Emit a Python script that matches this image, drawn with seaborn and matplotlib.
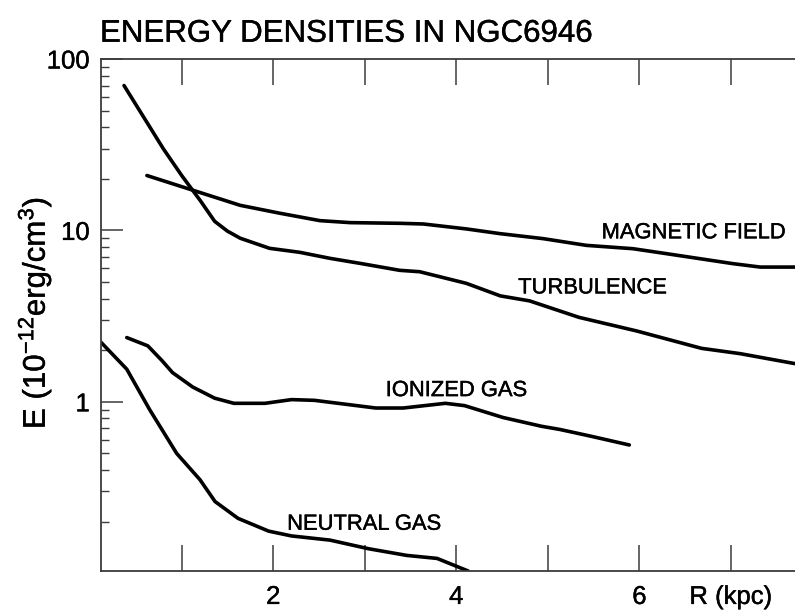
import matplotlib
matplotlib.use("Agg")
import matplotlib.pyplot as plt
import matplotlib.ticker as mticker
import matplotlib.patheffects as pe
import numpy as np
import pandas as pd
import seaborn as sns

# Radial profiles of energy density (10^-12 erg/cm^3) versus galactocentric radius (kpc)
r_magnetic = [0.62, 1.13, 1.64, 2.07, 2.51, 2.84, 3.38, 3.64, 4.11, 4.48, 4.95, 5.42, 5.93, 6.30, 6.66, 7.02, 7.32, 7.70]
e_magnetic = [20.9, 17.1, 14.0, 12.6, 11.4, 11.1, 11.0, 10.9, 10.2, 9.57, 8.95, 8.18, 7.82, 7.31, 6.84, 6.40, 6.11, 6.11]

r_turbulence = [0.37, 0.80, 1.00, 1.20, 1.36, 1.50, 1.64, 1.96, 2.29, 2.62, 2.95, 3.38, 3.60, 4.11, 4.48, 4.80, 5.34, 5.97, 6.68, 7.10, 7.70]
e_turbulence = [70.0, 29.9, 20.9, 15.0, 11.3, 9.9, 9.0, 7.86, 7.45, 6.87, 6.42, 5.85, 5.74, 4.91, 4.15, 3.88, 3.11, 2.59, 2.05, 1.91, 1.67]

r_ionized = [0.40, 0.63, 0.78, 0.90, 1.12, 1.36, 1.57, 1.91, 2.20, 2.45, 3.12, 3.42, 3.88, 4.09, 4.51, 4.93, 5.13, 5.47, 5.89]
e_ionized = [2.37, 2.12, 1.75, 1.48, 1.22, 1.05, 0.98, 0.98, 1.03, 1.02, 0.92, 0.92, 0.98, 0.95, 0.81, 0.72, 0.69, 0.63, 0.56]

r_neutral = [0.12, 0.40, 0.65, 0.945, 1.20, 1.364, 1.615, 1.95, 2.20, 2.62, 3.04, 3.46, 3.79, 4.13]
e_neutral = [2.22, 1.55, 0.90, 0.50, 0.351, 0.262, 0.209, 0.176, 0.165, 0.156, 0.139, 0.127, 0.122, 0.103]

x_ticks = [1, 2, 3, 4, 5, 6, 7]
x_tick_labels = ["", "2", "", "4", "", "6", "R (kpc)"]
y_ticks = [1, 10, 100]
y_tick_labels = ["1", "10", "100"]

sns.set_theme(style="ticks")
plt.rcParams["font.family"] = ["Liberation Sans", "DejaVu Sans"]
plt.rcParams["mathtext.fontset"] = "custom"
plt.rcParams["mathtext.rm"] = "Liberation Sans"
plt.rcParams["mathtext.it"] = "Liberation Sans:italic"
plt.rcParams["mathtext.bf"] = "Liberation Sans:bold"
plt.rcParams["text.color"] = "black"
plt.rcParams["axes.labelcolor"] = "black"

# a thin outline gives the lettering a slightly heavier stroke
heavy = [pe.withStroke(linewidth=0.3, foreground="black")]

fig = plt.figure(figsize=(7.95, 6.10), dpi=100)
ax = fig.add_axes([0.127, 0.0639, 0.873, 0.8394])

line_kw = dict(color="black", linewidth=2.6, estimator=None, sort=True, ax=ax)
for r, e in [(r_magnetic, e_magnetic), (r_turbulence, e_turbulence),
             (r_ionized, e_ionized), (r_neutral, e_neutral)]:
    df = pd.DataFrame({"R": r, "E": e})
    sns.lineplot(data=df, x="R", y="E", **line_kw)

ax.set_yscale("log")
ax.set_xlim(0.118, 7.70)
ax.set_ylim(0.103, 100)

ax.set_xticks(x_ticks)
ax.set_xticklabels(x_tick_labels)
ax.set_yticks(y_ticks)
ax.set_yticklabels(y_tick_labels)
ax.yaxis.set_minor_locator(mticker.LogLocator(base=10, subs=np.arange(2, 10) * 1.0, numticks=20))
ax.yaxis.set_minor_formatter(mticker.NullFormatter())

spine_color = "#3c3c3c"
for side in ["left", "bottom", "top"]:
    ax.spines[side].set_color(spine_color)
    ax.spines[side].set_linewidth(1.3)
ax.spines["right"].set_visible(False)

ax.tick_params(axis="x", which="major", direction="in", length=19, width=1.1,
               color=spine_color, labelcolor="black", top=True, bottom=True,
               labelsize=18.5, pad=10)
ax.tick_params(axis="y", which="major", direction="in", length=16, width=1.1,
               color=spine_color, labelcolor="black", left=True, right=False,
               labelsize=18.5, pad=8)
ax.tick_params(axis="y", which="minor", direction="in", length=6, width=1.0,
               color=spine_color, left=True, right=False)
ax.tick_params(axis="x", which="minor", bottom=False, top=False)
for lab in ax.get_xticklabels() + ax.get_yticklabels():
    lab.set_path_effects(heavy)

ax.set_xlabel("")
ax.set_ylabel(r"E (10$^{\mathregular{-12}}$erg/cm$^{\mathregular{3}}$)", fontsize=22.5,
              path_effects=heavy)
ax.yaxis.set_label_coords(-0.068, 0.504)

fig.text(100 / 795, 1 - 41.7 / 610, "ENERGY DENSITIES IN NGC6946",
         fontsize=22.5, ha="left", va="baseline", color="black", path_effects=heavy)

label_kw = dict(fontsize=15.8, ha="left", va="baseline", color="black", path_effects=heavy)
ax.text(5.587, 8.99, "MAGNETIC FIELD", **label_kw)
ax.text(4.676, 4.29, "TURBULENCE", **label_kw)
ax.text(3.229, 1.08, "IONIZED GAS", **label_kw)
ax.text(2.152, 0.1793, "NEUTRAL GAS", **label_kw)

fig.savefig("out.png", dpi=100)
